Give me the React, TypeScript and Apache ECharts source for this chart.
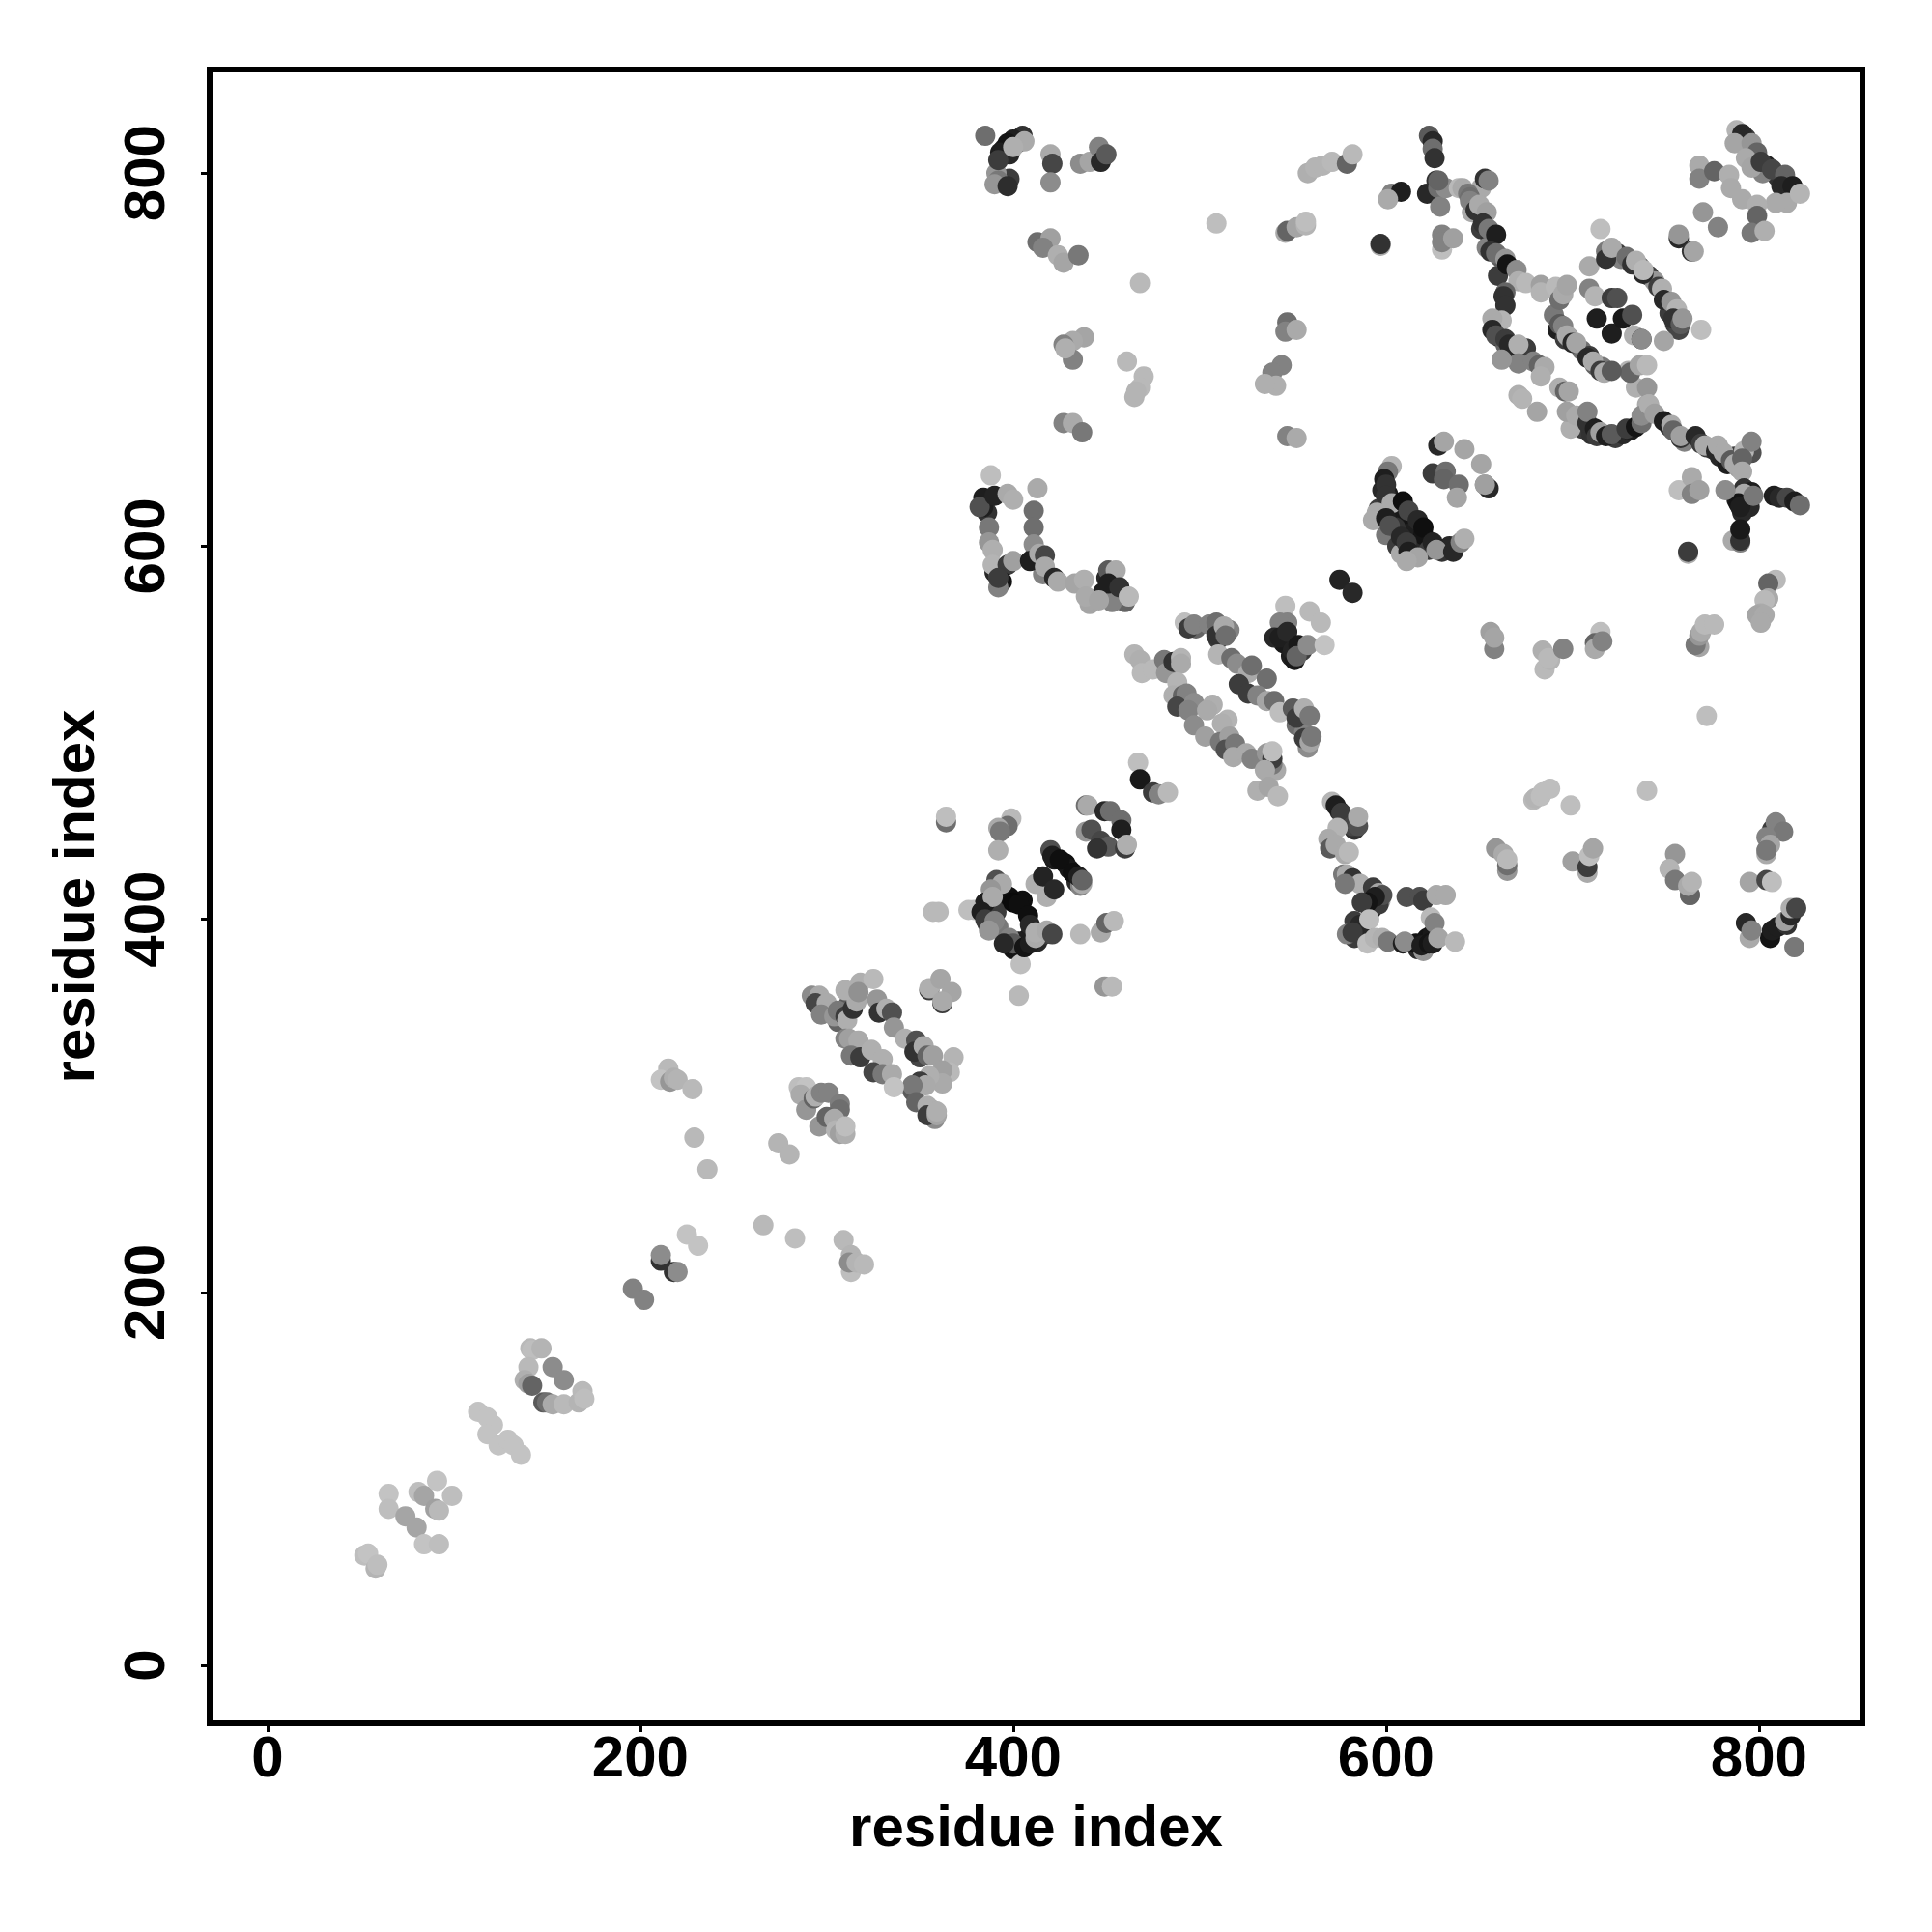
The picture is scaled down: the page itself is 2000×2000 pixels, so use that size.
import React, { useEffect, useRef } from "react";
import * as echarts from "echarts";

type Contact = [number, number, number]; // residue i, residue j, grey level of the contact

const tickLabels = [0, 200, 400, 600, 800];
const axisTitle = "residue index";

const c_dense1: Contact[] = [[395,813,25],[398,810,40],[402,816,20],[398,797,60],[391,800,150],[598,630,40],[601,628,30],[604,622,25],[596,620,60],[606,620,15],[610,616,25],[615,612,20],[613,607,30],[605,610,50],[600,606,120],[606,600,60],[608,596,170],[615,600,40],[620,606,20],[623,598,60],[630,597,50],[634,600,40]];
const c_dense2: Contact[] = [[386,406,25],[388,402,15],[391,404,60],[395,414,60],[398,412,15],[405,410,15],[410,394,20],[408,390,25],[403,388,30],[400,384,20],[413,388,40],[417,392,60],[392,396,120],[386,398,40],[422,432,25],[428,430,15],[430,427,25],[434,420,40],[436,418,130]];
const c_dense3: Contact[] = [[575,458,40],[578,454,35],[580,451,25],[583,448,50],[590,412,40],[594,408,30],[592,405,30],[597,410,170],[596,408,60],[617,384,40],[621,385,30],[616,387,20],[622,390,20],[625,392,25],[585,392,30],[583,390,60],[588,395,20]];
const c_dense4: Contact[] = [[660,745,60],[659,715,60],[661,712,30],[668,706,30],[675,706,60],[664,708,100],[703,665,40],[705,663,60],[710,660,50],[716,660,30],[723,658,60],[727,660,40],[731,662,30],[690,724,120],[692,716,30],[696,711,60],[698,712,150],[705,705,110],[709,702,60],[712,697,100],[716,696,120]];
const c_dense5: Contact[] = [[724,757,60],[726,754,130],[736,750,90],[741,745,60],[744,742,150],[752,725,60],[755,719,60],[757,716,70],[651,770,60],[656,765,50],[654,760,130],[661,755,90],[752,664,60],[760,656,130],[772,653,60],[775,652,60],[779,648,40],[783,644,30],[787,648,60],[789,642,160]];
const c_dense6: Contact[] = [[788,625,30],[793,625,20],[795,621,40],[791,618,40],[793,819,60],[795,812,80],[798,806,70],[804,804,30],[810,798,50],[815,795,170],[820,790,100],[802,800,130],[547,550,60],[545,548,25],[549,541,30],[551,539,25],[555,544,60],[536,485,100],[541,480,170],[534,484,120]];
const c_dense7: Contact[] = [[510,550,60],[516,555,130],[498,556,100],[552,504,110],[556,500,130],[558,492,140],[300,350,110],[306,345,100],[312,355,90],[350,326,70],[346,308,90],[356,298,100],[358,293,140],[385,624,20],[386,618,50],[390,586,40],[394,588,30],[392,584,90],[412,596,30],[416,585,130],[448,575,30],[455,575,30],[450,583,40],[460,570,100],[453,570,130]];

const c_start: Contact[] = [[52,59,190],[54,60,195],[58,52,180],[59,54,190],[65,92,195],[65,84,190],[74,80,165],[80,74,165],[84,65,195],[92,65,190],[81,93,190],[84,91,165],[91,99,195],[99,91,190],[90,84,160],[92,83,185]];
const c_s2: Contact[] = [[113,136,195],[118,133,195],[121,129,195],[118,124,195],[124,118,195],[129,121,195],[132,118,195],[136,113,195]];
const c_s3: Contact[] = [[141,170,185],[142,169,190],[147,170,180],[140,160,185],[138,153,175],[140,151,160],[142,150,100],[153,160,140],[159,153,140],[148,141,90],[150,141,110],[153,140,170],[159,140,185],[167,141,180],[169,147,185],[170,143,190]];
const c_s4: Contact[] = [[196,202,130],[202,196,130],[211,217,50],[211,220,140],[218,211,50],[220,211,140],[225,231,195],[231,225,195],[266,236,185],[283,229,190],[309,228,185],[313,211,190],[313,220,180],[312,216,140],[316,216,180],[320,215,185],[215,320,185],[211,314,195],[216,313,150],[218,315,175],[220,314,180],[228,309,185],[229,283,185],[236,266,185],[274,280,180],[280,274,180]];
const c_s5: Contact[] = [[285,310,190],[289,310,195],[286,306,170],[289,298,150],[293,304,100],[294,305,175],[297,307,130],[301,307,130],[307,301,125],[307,298,110],[296,289,150],[300,294,100],[304,293,170],[305,287,180],[307,285,160],[310,285,175],[310,289,190]];
const c_s6: Contact[] = [[292,359,140],[296,359,170],[294,355,70],[300,355,170],[297,349,130],[304,348,150],[306,351,120],[310,348,60],[311,346,175],[314,352,50],[316,356,170],[310,362,175],[318,366,175],[317,361,145],[325,368,185],[327,357,150],[328,350,50],[332,352,175],[335,350,80],[336,342,150],[342,336,175],[348,335,80],[347,329,50],[352,332,170],[354,327,100],[357,327,160],[368,326,180],[366,318,185],[362,319,160],[362,312,170],[355,316,175],[350,313,60],[353,311,170],[346,311,120],[348,302,100],[354,300,175],[354,295,60],[359,295,165],[359,297,175]];
const c_s7: Contact[] = [[310,336,130],[312,336,160],[317,335,170],[313,327,120],[318,326,60],[324,330,175],[330,325,175],[325,318,70],[330,317,120],[335,317,170],[336,310,195],[355,362,60],[355,363,175],[361,368,165],[367,361,165],[362,355,60],[362,356,170],[364,452,110],[364,455,190],[357,404,185],[360,404,185],[379,405,190]];
const c_a1: Contact[] = [[399,454,185],[397,450,110],[392,449,170],[393,447,120],[392,437,175],[439,461,110],[440,461,170],[449,458,40],[452,458,110],[458,453,110],[458,448,30],[439,447,150],[442,448,80],[447,442,70],[451,439,90],[445,438,50],[460,438,60],[461,440,175]];
const c_a2: Contact[] = [[437,419,170],[420,437,80],[421,434,30],[425,432,15],[432,425,15],[435,423,30],[437,421,100],[412,419,175],[416,423,35],[418,412,175],[422,416,40]];
const c_a3: Contact[] = [[391,421,80],[394,419,170],[388,416,150],[385,409,30],[389,412,170],[400,409,10],[403,408,15],[408,402,15],[409,397,40],[376,405,190],[383,404,30],[385,400,60],[390,399,130],[387,394,150],[398,390,130],[400,387,90],[395,387,40],[404,376,190],[406,385,20],[409,387,30],[412,390,170],[412,393,175],[418,394,170],[421,392,70],[403,359,185],[436,392,185],[447,393,170],[450,398,100],[454,399,185],[449,364,150],[453,364,185]];
const c_b1: Contact[] = [[492,559,190],[494,556,60],[497,558,130],[505,558,130],[509,559,110],[509,552,50],[513,557,170],[514,552,110],[510,542,180],[517,540,110],[520,537,140],[526,532,170],[528,536,110],[521,526,60],[526,521,60],[536,529,110],[531,520,130],[536,517,165],[540,517,110],[543,511,190],[550,513,90],[552,508,60],[556,513,175],[559,509,120],[556,497,60],[559,495,165],[560,498,120]];
const c_b2: Contact[] = [[465,542,180],[468,539,175],[469,532,185],[475,534,185],[481,539,120],[482,532,150],[486,538,50],[490,540,180],[490,537,170],[488,527,180],[486,520,175],[491,520,100],[493,521,130],[488,514,70],[497,516,140],[494,512,130],[507,515,175],[504,512,170],[497,504,140],[515,507,180],[512,505,175],[503,498,160],[511,495,120],[516,498,160],[514,491,80],[519,494,120],[518,487,170],[525,489,170],[528,486,130],[536,489,150],[539,483,120],[539,486,60],[539,490,190],[535,480,170],[531,469,175],[537,471,165],[542,466,185]];
const c_b3: Contact[] = [[546,568,190],[547,559,130],[543,559,130],[540,551,40],[543,551,30],[547,554,40],[550,544,35],[553,547,25],[552,541,100],[558,547,140],[567,547,195],[559,565,185],[565,559,185],[575,582,35],[582,575,40]];
const c_b4: Contact[] = [[467,484,190],[468,475,25],[475,468,60],[478,467,130],[483,468,185]];
const c_c1: Contact[] = [[571,463,180],[573,461,30],[576,457,60],[582,450,70],[585,450,80],[585,455,170],[574,449,180],[569,443,170],[570,438,90],[573,440,170],[578,435,170],[580,436,185],[577,424,120],[579,424,170],[582,422,50],[586,419,175],[578,419,120],[593,417,60],[596,414,165],[598,413,80],[594,412,30],[590,409,20],[587,409,60]];
const c_c2: Contact[] = [[611,412,80],[618,412,80],[620,410,60],[627,413,170],[632,413,170],[583,399,60],[586,397,40],[591,400,190],[579,392,130],[582,393,60],[590,387,190],[594,390,180],[598,390,175],[601,388,120],[609,387,30],[610,388,140],[624,401,185],[626,398,130],[620,383,150],[619,386,30],[623,387,20],[625,387,30],[628,390,165],[637,388,185]];
const c_c3: Contact[] = [[659,438,150],[663,435,170],[665,426,150],[665,429,110],[665,432,185],[700,431,160],[708,425,170],[708,428,60],[709,434,190],[711,438,165],[679,464,185],[680,465,180],[683,466,190],[684,468,190],[688,470,190],[699,461,190],[740,469,190]];
const c_c4: Contact[] = [[755,435,150],[752,427,180],[755,421,120],[763,413,160],[763,413,100],[762,418,170],[764,420,180],[795,420,165],[804,421,70],[807,420,190],[807,448,60],[809,452,130],[813,447,120],[804,444,130],[806,440,165],[804,435,170],[804,437,120]];
const c_c5: Contact[] = [[793,398,40],[795,390,170],[796,394,130],[806,390,20],[807,394,30],[810,396,30],[815,397,50],[814,399,160],[817,402,40],[817,406,175],[820,406,70],[819,385,120]];
const c_d1: Contact[] = [[388,638,190],[413,631,170],[411,619,110],[411,610,110],[384,626,30],[384,621,30],[382,621,80],[390,627,35],[397,628,170],[400,625,175],[387,610,120],[387,602,150],[389,598,175],[389,590,180],[397,590,60],[394,581,20],[392,578,130],[392,583,60],[400,592,160]];
const c_d2: Contact[] = [[411,601,140],[409,592,30],[414,596,170],[417,595,70],[417,589,170],[422,583,40],[424,581,170],[433,580,165],[438,582,175],[441,569,165],[439,573,170],[451,587,90],[455,587,170],[451,580,30],[457,578,50],[446,571,165],[462,573,185]];
const c_d3: Contact[] = [[385,820,110],[405,820,50],[400,818,30],[397,816,20],[393,811,30],[392,807,60],[406,817,170],[400,814,175],[392,796,120],[390,794,150],[397,793,45],[420,810,170],[421,805,70],[420,795,140],[436,805,140],[441,806,165],[446,814,130],[447,806,40],[450,810,90]];
const c_d4: Contact[] = [[413,763,110],[420,765,160],[416,760,130],[424,756,175],[427,752,165],[435,756,120],[468,741,185],[509,773,190],[546,768,170],[547,769,100],[552,771,165],[557,772,180],[557,774,190],[558,800,175],[562,803,180],[566,804,180],[571,806,185],[579,805,100],[582,810,185],[597,761,170],[597,762,50]];
const c_d5: Contact[] = [[438,712,165],[432,710,170],[427,708,130],[432,700,130],[428,706,175],[461,699,185],[470,691,185],[468,685,185],[465,680,180],[466,683,180],[427,666,130],[432,666,170],[437,661,120],[547,720,110],[546,715,130],[552,716,170],[544,697,130],[539,693,130],[541,686,175],[535,687,175],[547,659,130],[552,658,170]];
const c_e1: Contact[] = [[603,789,130],[608,790,30],[601,786,170],[623,820,90],[625,817,40],[625,813,110],[626,808,50],[622,789,40],[627,796,50],[628,792,110],[629,782,130],[630,759,190],[630,767,130],[630,763,130],[636,765,160]];
const c_e2: Contact[] = [[632,792,140],[628,796,100],[639,792,185],[641,792,170],[651,792,170],[653,797,50],[655,796,130],[644,789,120],[650,780,170],[652,777,100],[646,779,170],[645,787,110],[645,785,130],[648,780,50],[650,783,170],[654,779,160],[652,773,50],[655,770,120],[659,767,30]];
const c_e3: Contact[] = [[656,758,50],[659,757,110],[664,754,150],[665,751,20],[670,748,140],[671,742,175],[675,741,185],[683,740,160],[683,736,180],[691,739,185],[693,732,110],[695,735,170],[697,740,165],[664,736,100],[663,734,50],[664,729,50],[662,721,180],[657,722,170]];
const c_e4: Contact[] = [[657,716,40],[659,713,80],[664,711,60],[666,708,40],[671,708,175],[671,698,130],[662,700,150],[679,699,130],[682,697,100],[685,696,170],[683,691,175],[693,685,175],[696,683,100],[698,683,165],[671,681,175],[673,679,180],[681,672,165]];
const c_e5: Contact[] = [[699,663,175],[697,672,160],[702,670,170],[708,666,50],[708,672,130],[712,663,30],[713,659,60],[715,661,160],[718,659,30],[721,660,90],[729,663,60],[734,664,20],[737,666,110],[740,676,170],[734,685,175],[740,685,150],[741,676,175],[730,694,180],[731,693,100],[736,697,165],[740,697,185]];
const c_e6: Contact[] = [[693,719,90],[695,718,130],[697,713,170],[700,709,40],[702,709,165],[708,701,40],[711,699,170],[715,694,60],[717,693,170],[721,694,90]];
const c_e7: Contact[] = [[709,738,130],[712,734,180],[709,750,170],[715,770,190],[713,722,30],[721,714,30],[721,733,60],[724,733,80],[727,722,25],[732,724,80],[733,713,175],[737,711,50],[737,711,140],[749,710,165],[769,716,190]];
const c_e8: Contact[] = [[718,758,120],[718,754,50],[721,760,170],[729,755,110],[732,751,50],[734,753,175],[738,746,40],[738,748,185],[746,739,60],[748,738,175],[749,732,40],[753,731,150],[756,727,180],[754,722,50],[758,719,90],[759,722,150]];
const c_e9: Contact[] = [[757,765,40],[757,767,150],[764,758,50],[765,758,165],[770,779,150],[778,771,130]];
const c_f1: Contact[] = [[768,804,170],[768,797,130],[776,801,100],[784,799,175],[785,792,170],[788,823,180],[791,821,40],[787,816,165],[796,816,150],[799,811,100],[793,808,170],[796,803,165],[801,806,60],[807,802,70],[814,799,100],[812,793,40],[818,793,30],[815,784,170],[809,784,170],[791,786,170],[799,783,175],[799,777,100],[796,768,120],[803,769,175],[822,789,180]];
const c_g1: Contact[] = [[737,670,140],[741,676,175],[744,671,160],[749,667,30],[753,665,170],[754,662,100],[758,658,50],[758,659,160],[766,659,40],[769,655,60],[771,654,170],[777,651,40],[778,654,170],[781,650,170],[785,646,90],[787,644,170],[796,650,80],[792,651,180],[796,656,130],[791,647,100],[791,640,170]];
const c_g2: Contact[] = [[792,631,50],[796,629,30],[792,628,170],[789,623,20],[790,621,30],[797,627,120],[808,627,30],[811,626,40],[815,626,70],[819,624,30],[822,622,110],[757,630,190],[764,637,170],[764,628,130],[768,630,160],[782,630,140]];
const c_g3: Contact[] = [[762,596,170],[762,597,60],[786,603,170],[790,602,130],[790,603,50],[790,609,25],[809,582,185],[805,580,100],[805,572,170],[803,571,185],[801,564,170],[799,563,165],[803,563,170],[801,559,170]];
const c_g4: Contact[] = [[768,546,165],[766,547,120],[768,552,150],[769,554,170],[771,558,185],[776,558,185],[715,554,190],[712,548,100],[712,545,170],[716,549,130],[684,544,175],[685,534,185],[688,539,180],[687,540,185],[695,545,130],[656,554,160],[658,545,130],[658,551,165],[772,509,190]];
const c_h1: Contact[] = [[603,643,180],[601,640,120],[599,636,30],[600,633,50],[600,627,50],[603,623,170],[609,624,15],[612,619,70],[595,618,170],[593,614,170],[600,615,30],[602,611,80],[617,614,40],[620,610,15],[608,605,40],[611,602,60],[625,602,35],[627,598,150],[612,597,30],[617,594,165],[611,592,170],[636,597,40],[640,602,130],[642,604,175]];
const c_h2: Contact[] = [[625,639,60],[632,640,110],[631,636,100],[639,633,110],[638,626,165],[642,652,165],[628,654,40],[631,656,165],[651,644,165],[653,633,130],[655,631,40],[653,633,160]];

const contacts: Contact[] = [
  ...c_dense1, ...c_dense2, ...c_dense3, ...c_dense4, ...c_dense5, ...c_dense6, ...c_dense7,
  ...c_start, ...c_s2, ...c_s3, ...c_s4, ...c_s5, ...c_s6, ...c_s7,
  ...c_a1, ...c_a2, ...c_a3, ...c_b1, ...c_b2, ...c_b3, ...c_b4,
  ...c_c1, ...c_c2, ...c_c3, ...c_c4, ...c_c5, ...c_d1, ...c_d2, ...c_d3, ...c_d4, ...c_d5,
  ...c_e1, ...c_e2, ...c_e3, ...c_e4, ...c_e5, ...c_e6, ...c_e7, ...c_e8, ...c_e9,
  ...c_f1, ...c_g1, ...c_g2, ...c_g3, ...c_g4, ...c_h1, ...c_h2,
];

const FONT = "'Liberation Sans', Arial, sans-serif";

function axis(extra: any) {
  return {
    type: "value",
    min: -31,
    max: 855.5,
    name: axisTitle,
    nameLocation: "middle",
    nameTextStyle: { fontFamily: FONT, fontWeight: "bold", fontSize: 60, color: "#000" },
    splitLine: { show: false },
    axisLine: { show: false, onZero: false },
    axisTick: { show: true, length: 9, lineStyle: { color: "#000", width: 3 }, customValues: tickLabels },
    ...extra,
  };
}

export default function App() {
  const ref = useRef<HTMLDivElement>(null);
  useEffect(() => {
    const chart = echarts.init(ref.current!, undefined, { renderer: "svg" });
    chart.setOption({
      animation: false,
      backgroundColor: "#fff",
      grid: {
        left: 217,
        top: 72,
        width: 1711,
        height: 1712,
        show: true,
        borderColor: "#000",
        borderWidth: 6,
        backgroundColor: "#fff",
        containLabel: false,
      },
      xAxis: axis({
        nameGap: 76,
        axisLabel: {
          customValues: tickLabels,
          fontFamily: FONT, fontWeight: "bold", fontSize: 60, color: "#000", margin: 4,
        },
      }),
      yAxis: axis({
        nameGap: 111,
        axisLabel: {
          customValues: tickLabels,
          rotate: 90,
          fontFamily: FONT, fontWeight: "bold", fontSize: 60, color: "#000", margin: 38,
        },
      }),
      series: [
        {
          type: "scatter",
          symbol: "circle",
          symbolSize: 21,
          silent: true,
          clip: false,
          data: contacts,
          itemStyle: {
            opacity: 1,
            color: (p: any) => {
              const g = p.value[2];
              return `rgb(${g},${g},${g})`;
            },
          },
        },
      ],
    });
    return () => chart.dispose();
  }, []);
  return <div ref={ref} style={{ position: "fixed", left: 0, top: 0, width: 2000, height: 2000, background: "#fff" }} />;
}
